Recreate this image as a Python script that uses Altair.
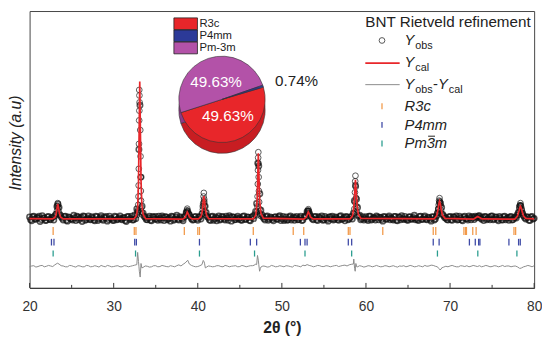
import altair as alt
import numpy as np
import pandas as pd

FONT = "Liberation Sans"

# ---------------- data ----------------
x_major = [20, 30, 40, 50, 60, 70, 80]
x_minor = [25, 35, 45, 55, 65, 75]

obs_x = np.round(np.arange(20.0, 80.0001, 0.25), 3)
obs_y = [
    25.6, 24.2, 25.9, 24.8,  # 20
    25.3, 24.0, 26.1, 25.2,  # 21
    24.4, 25.8, 24.6, 25.5,  # 22
    26.0, 29.4, 29.0, 25.7,  # 23
    24.5, 25.9, 24.1, 25.4,  # 24
    24.9, 26.2, 24.3, 25.6,  # 25
    25.1, 24.0, 25.8, 24.7,  # 26
    26.0, 24.6, 25.3, 24.2,  # 27
    25.7, 24.9, 26.1, 24.4,  # 28
    25.2, 24.1, 25.9, 25.0,  # 29
    24.3, 25.6, 24.8, 26.0,  # 30
    24.6, 25.4, 24.0, 25.8,  # 31
    25.1, 24.5, 26.3, 28.5,  # 32
    50.0, 40.0, 27.0, 25.4,  # 33
    24.6, 25.9, 24.2, 25.5,  # 34
    25.8, 24.4, 25.1, 26.0,  # 35
    24.3, 25.6, 24.9, 24.1,  # 36
    25.7, 24.8, 26.2, 24.5,  # 37
    25.3, 24.2, 25.9, 27.5,  # 38
    26.4, 25.0, 24.6, 25.8,  # 39
    24.4, 25.7, 26.8, 31.0,  # 40
    27.2, 25.4, 24.3, 25.9,  # 41
    25.0, 24.2, 26.0, 24.8,  # 42
    25.6, 24.5, 25.2, 26.1,  # 43
    24.1, 25.5, 24.7, 25.9,  # 44
    25.3, 24.4, 26.0, 24.9,  # 45
    25.5, 24.2, 25.8, 26.4,  # 46
    30.5, 44.0, 28.0, 25.6,  # 47
    24.5, 26.0, 24.9, 25.3,  # 48
    24.2, 25.7, 24.8, 26.1,  # 49
    25.0, 24.3, 25.6, 24.6,  # 50
    26.0, 25.1, 24.4, 25.8,  # 51
    24.7, 25.9, 24.5, 26.0,  # 52
    27.6, 27.0, 25.5, 24.6,  # 53
    25.8, 24.3, 25.4, 26.0,  # 54
    24.6, 25.2, 24.1, 25.7,  # 55
    25.9, 24.8, 25.3, 24.4,  # 56
    26.1, 25.0, 24.2, 25.6,  # 57
    24.9, 25.8, 27.0, 37.0,  # 58
    29.0, 26.2, 25.0, 24.5,  # 59
    25.7, 24.3, 25.9, 24.8,  # 60
    25.2, 26.0, 24.6, 25.4,  # 61
    24.1, 25.6, 24.9, 26.0,  # 62
    25.3, 24.5, 25.8, 24.2,  # 63
    25.5, 26.1, 24.7, 25.0,  # 64
    24.4, 25.7, 24.9, 26.2,  # 65
    25.1, 24.3, 25.9, 24.8,  # 66
    26.0, 24.6, 25.3, 24.1,  # 67
    25.6, 24.9, 27.0, 30.8,  # 68
    29.0, 26.0, 25.2, 24.5,  # 69
    25.8, 24.4, 25.5, 26.0,  # 70
    24.7, 25.3, 24.2, 25.9,  # 71
    25.0, 26.0, 24.6, 25.4,  # 72
    25.9, 25.6, 26.1, 24.8,  # 73
    24.3, 25.7, 25.0, 24.6,  # 74
    26.0, 24.9, 25.5, 24.2,  # 75
    25.3, 24.5, 25.9, 25.1,  # 76
    24.4, 25.8, 24.7, 25.6,  # 77
    26.4, 29.3, 28.4, 26.0,  # 78
    24.9, 25.5, 24.3, 25.8,  # 79
    25.1,                    # 80
]

# observed pattern, intermediate samples (x.125, x.375, x.625, x.875)
obs2_x = np.round(np.arange(20.125, 80.0, 0.25), 3)
obs2_y = [
    24.6, 25.7, 24.9, 25.4,  # 20
    25.9, 24.7, 25.2, 24.3,  # 21
    25.6, 24.8, 25.3, 24.5,  # 22
    26.6, 30.2, 26.4, 25.1,  # 23
    25.8, 24.4, 25.6, 24.9,  # 24
    24.5, 25.3, 25.9, 24.6,  # 25
    25.5, 26.0, 24.4, 25.2,  # 26
    24.8, 25.7, 24.5, 25.9,  # 27
    24.3, 25.4, 24.8, 25.6,  # 28
    25.8, 24.7, 25.1, 24.4,  # 29
    25.9, 24.6, 25.3, 24.9,  # 30
    25.2, 24.3, 25.7, 24.7,  # 31
    25.9, 24.6, 25.0, 27.5,  # 32
    66.0, 29.5, 25.9, 24.7,  # 33
    25.3, 24.4, 25.8, 24.8,  # 34
    24.9, 25.9, 24.5, 25.4,  # 35
    25.7, 24.6, 25.3, 25.9,  # 36
    24.4, 25.5, 24.8, 25.7,  # 37
    24.8, 25.6, 27.2, 26.9,  # 38
    25.7, 24.5, 25.6, 24.9,  # 39
    25.6, 24.9, 29.5, 29.5,  # 40
    25.8, 24.6, 25.7, 24.4,  # 41
    25.6, 25.2, 24.5, 25.8,  # 42
    24.9, 25.9, 24.4, 25.5,  # 43
    25.7, 24.6, 25.3, 24.8,  # 44
    24.5, 25.8, 24.7, 25.6,  # 45
    24.4, 25.5, 25.0, 27.6,  # 46
    45.0, 34.0, 26.4, 25.0,  # 47
    25.7, 24.4, 25.6, 24.7,  # 48
    25.5, 24.9, 25.7, 24.3,  # 49
    25.8, 24.8, 24.4, 25.6,  # 50
    24.5, 25.6, 25.3, 24.6,  # 51
    25.4, 24.3, 25.5, 25.8,  # 52
    27.8, 26.1, 24.9, 25.7,  # 53
    24.6, 25.7, 24.9, 24.4,  # 54
    25.8, 24.7, 25.5, 24.9,  # 55
    24.5, 25.6, 24.7, 25.8,  # 56
    24.7, 25.5, 25.8, 24.6,  # 57
    25.5, 24.9, 31.5, 32.0,  # 58
    25.9, 24.6, 25.7, 25.1,  # 59
    24.8, 25.9, 24.5, 25.4,  # 60
    24.5, 25.6, 25.5, 24.7,  # 61
    25.8, 24.8, 25.5, 24.6,  # 62
    24.9, 25.8, 24.4, 25.6,  # 63
    24.6, 25.1, 25.8, 24.5,  # 64
    25.6, 24.8, 25.4, 24.6,  # 65
    24.6, 25.8, 24.7, 25.5,  # 66
    24.8, 25.5, 24.7, 25.7,  # 67
    24.5, 25.9, 28.5, 30.5,  # 68
    26.5, 25.3, 24.7, 25.6,  # 69
    24.6, 25.7, 24.9, 24.5,  # 70
    25.9, 24.5, 25.6, 25.0,  # 71
    24.5, 25.4, 25.8, 24.7,  # 72
    25.3, 26.0, 25.2, 25.5,  # 73
    25.8, 24.6, 25.5, 25.9,  # 74
    24.6, 25.6, 24.7, 25.8,  # 75
    24.6, 25.7, 24.6, 25.4,  # 76
    25.6, 24.5, 25.3, 25.2,  # 77
    27.2, 29.8, 27.0, 25.3,  # 78
    25.7, 24.4, 25.6, 24.9,  # 79
]

# extra observed points on the Bragg peaks
peak_obs_x = [
    33.04, 33.06, 33.08, 33.05, 33.03, 33.16, 33.01, 33.19, 32.99, 33.21, 32.97,
    33.23, 32.95, 33.25, 32.92, 33.28, 32.88, 33.32, 32.83, 33.38, 32.78,
    47.20, 47.18, 47.22, 47.16, 47.24, 47.14, 47.27, 47.11, 47.30, 47.08, 47.34,
    47.04, 47.40, 46.98, 47.46,
    58.75, 58.72, 58.78, 58.69, 58.82, 58.66, 58.86, 58.62, 58.90, 58.57, 58.96,
    40.72, 40.69, 40.76, 40.65, 40.80, 40.60, 40.86, 40.54, 40.93,
    23.35, 23.31, 23.40, 23.27, 23.45, 23.20, 23.52,
    68.75, 68.70, 68.80, 68.65, 68.86, 68.60, 68.92, 68.54, 69.00, 68.45,
    78.37, 78.32, 78.43, 78.27, 78.50, 78.20, 78.58, 78.12, 78.66,
    38.75, 38.70, 38.82, 38.62, 38.90,
    53.15, 53.10, 53.22, 53.02, 53.30,
]
peak_obs_y = [
    71.5, 69.5, 67.0, 64.0, 60.5, 57.0, 52.0, 47.5, 43.0, 40.0, 37.0,
    35.0, 33.0, 31.5, 30.0, 29.0, 28.0, 27.5, 27.0, 26.5, 26.3,
    49.0, 47.0, 45.0, 42.5, 40.0, 37.5, 35.0, 33.0, 31.0, 29.5, 28.5,
    27.5, 26.8, 26.2, 26.0,
    40.5, 38.5, 36.5, 34.5, 32.5, 31.0, 29.5, 28.5, 27.5, 26.8, 26.4,
    34.3, 33.0, 32.0, 30.5, 29.5, 28.3, 27.5, 26.8, 26.3,
    30.6, 29.6, 29.0, 28.0, 27.6, 26.8, 26.5,
    32.4, 31.5, 31.2, 30.0, 29.6, 28.5, 28.0, 27.2, 26.8, 26.3,
    30.6, 29.8, 29.5, 28.6, 28.0, 27.4, 27.0, 26.4, 26.3,
    28.6, 28.0, 27.8, 27.0, 26.8,
    28.4, 27.9, 27.7, 27.0, 26.7,
]

# calculated profile
cal_x = [20.0,
         22.7, 23.0, 23.15, 23.25, 23.35, 23.45, 23.55, 23.7, 24.0,
         32.4, 32.7, 32.85, 32.95, 33.02, 33.1, 33.18, 33.25, 33.35, 33.5, 33.8,
         38.2, 38.5, 38.65, 38.75, 38.85, 39.0, 39.3,
         40.1, 40.4, 40.55, 40.65, 40.72, 40.8, 40.9, 41.05, 41.3,
         46.6, 46.9, 47.05, 47.13, 47.2, 47.27, 47.35, 47.5, 47.8,
         52.6, 52.9, 53.05, 53.15, 53.25, 53.4, 53.7,
         58.1, 58.4, 58.55, 58.65, 58.75, 58.85, 58.95, 59.1, 59.4,
         68.1, 68.4, 68.55, 68.68, 68.75, 68.85, 68.95, 69.1, 69.4,
         72.8, 73.1, 73.3, 73.5, 73.8,
         77.7, 78.0, 78.2, 78.3, 78.38, 78.5, 78.6, 78.75, 79.0,
         80.0]
cal_y = [25.0,
         24.9, 25.4, 26.5, 28.6, 30.3, 28.8, 26.8, 25.5, 24.9,
         24.9, 26.0, 29.0, 38.0, 55.0, 74.5, 56.0, 39.0, 30.0, 26.5, 25.0,
         24.8, 25.4, 26.6, 27.4, 26.8, 25.6, 24.9,
         24.9, 25.8, 28.0, 31.5, 33.1, 31.8, 28.5, 26.2, 25.0,
         24.9, 26.2, 31.0, 40.0, 48.6, 41.0, 32.0, 27.0, 25.2,
         24.8, 25.5, 26.7, 27.4, 26.8, 25.6, 24.9,
         24.9, 26.0, 29.0, 34.0, 39.0, 34.5, 29.5, 26.5, 25.1,
         24.9, 26.0, 28.0, 30.5, 31.3, 30.3, 28.2, 26.3, 25.1,
         24.8, 25.4, 25.8, 25.4, 24.9,
         24.8, 25.8, 27.8, 29.0, 29.5, 28.6, 27.2, 25.9, 25.1,
         24.9]

# difference curve Yobs - Ycal (offset below)
diff_grid_x = np.round(np.arange(20.0, 80.0001, 0.5), 3)
diff_grid_y = [
    7.6, 8.0, 7.7, 8.1, 7.8, 7.9, 8.3, 8.6, 7.9, 7.6,
    8.0, 7.5, 7.9, 7.6, 8.0, 7.7, 7.8, 8.1, 7.6, 7.9,
    7.7, 8.0, 7.6, 7.9, 7.8, 8.2, 7.8, 7.4, 7.8, 7.6,
    8.0, 7.7, 7.9, 7.6, 7.8, 8.0, 7.9, 9.0, 8.6, 7.8,
    7.7, 8.4, 7.4, 7.8, 7.7, 8.0, 7.6, 7.9, 7.8, 8.0,
    7.7, 7.9, 7.8, 8.0, 8.4, 7.5, 7.8, 7.6, 7.9, 7.7,
    7.8, 8.0, 7.7, 8.1, 7.8, 8.2, 8.4, 7.9, 7.8, 8.0,
    7.7, 7.9, 7.8, 8.1, 7.9, 8.2, 8.3, 8.6, 7.6, 7.8,
    7.7, 7.9, 7.8, 7.8, 7.7, 7.9, 7.8, 7.7, 7.9, 8.0,
    7.8, 7.9, 7.7, 7.8, 8.1, 7.9, 8.1, 7.6, 7.2, 7.8,
    7.9, 7.8, 7.6, 7.9, 8.0, 7.8, 7.9, 8.0, 7.8, 7.9,
    7.7, 7.9, 7.8, 7.7, 7.9, 7.8, 7.6, 7.2, 7.8, 7.9,
    8.0,
]
diff2_x = np.round(np.arange(20.25, 80.0, 0.5), 3)
diff2_y = [
    7.9, 7.5, 8.0, 7.6, 8.1, 7.7, 8.8, 8.0, 7.6, 8.1,
    7.7, 8.0, 7.6, 8.1, 7.6, 8.0, 7.5, 7.8, 8.1, 7.6,
    7.9, 7.6, 8.0, 7.6, 8.0, 8.4, 8.8, 7.9, 7.5, 8.0,
    7.6, 8.1, 7.7, 8.0, 7.6, 8.3, 8.5, 9.8, 8.1, 7.6,
    8.0, 9.4, 7.9, 7.6, 8.0, 7.7, 8.1, 7.6, 7.9, 7.6,
    8.1, 7.6, 8.0, 8.2, 8.5, 7.9, 7.5, 8.1, 7.6, 8.0,
    7.6, 7.9, 7.5, 8.0, 7.6, 8.0, 8.1, 7.6, 8.1, 7.7,
    8.0, 7.6, 8.0, 7.7, 8.1, 7.9, 8.5, 7.2, 8.0, 7.5,
    8.0, 7.6, 8.1, 7.6, 8.0, 7.6, 8.0, 7.5, 7.8, 7.6,
    8.1, 7.6, 8.0, 7.6, 7.8, 8.2, 7.8, 6.8, 7.5, 7.6,
    8.1, 7.6, 8.0, 7.7, 7.6, 8.1, 7.7, 7.6, 8.1, 7.6,
    8.0, 7.6, 8.1, 7.9, 7.6, 7.9, 7.1, 7.6, 8.1, 7.6,
]
diff_spike_x = [23.3, 32.85, 32.95, 33.05, 33.15, 33.35,
                38.8, 40.65, 40.8, 40.9,
                46.85, 47.1, 47.2, 47.35, 47.45,
                58.55, 58.65, 58.72, 58.8, 58.9,
                68.65, 68.8, 68.95, 78.3]
diff_spike_y = [8.9, 12.8, 9.5, 6.0, 3.9, 7.2,
                10.0, 9.9, 8.9, 7.2,
                8.6, 11.7, 10.0, 6.0, 7.0,
                10.4, 7.0, 6.0, 8.8, 7.6,
                7.0, 6.5, 6.8, 7.0]

# Bragg reflection positions
bragg_r3c = [22.8, 32.45, 32.65, 38.4, 40.0, 40.2, 46.6, 51.35, 52.6, 57.9, 58.1,
             62.0, 68.0, 68.3, 71.65, 71.85, 71.95, 72.7, 73.1, 77.6, 77.8]
bragg_p4mm = [22.6, 22.9, 32.5, 32.7, 40.2, 46.25, 47.0, 52.2, 52.75, 53.0, 57.9,
              58.3, 68.0, 68.7, 72.3, 73.0, 73.4, 73.55, 77.0, 78.15, 78.35]
bragg_pm3m = [22.8, 32.6, 40.2, 46.75, 52.75, 58.3, 68.5, 73.3, 77.95]

# phase fractions
pie_phase = ["R3c", "Pm-3m", "P4mm"]
pie_pct = [49.63, 49.63, 0.74]
pie_labels = ["49.63%", "49.63%", "0.74%"]

# ---------------- styling ----------------
RED = "#e8262a"
BLUE = "#2c3a98"
PURPLE = "#b352a8"
ORANGE = "#f29a4a"
LBLUE = "#3e4aa6"
TEAL = "#2a9d8f"
GREY = "#8a8a8a"

OX, OY = 30, 8   # page offset of the plot area


def px(x):
    return x - OX


def py(y):
    return y - OY


one = pd.DataFrame({"k": [0]})

X = alt.X("x:Q", scale=alt.Scale(domain=[20, 80], nice=False, zero=False),
          axis=alt.Axis(values=x_major, tickSize=0, labelFontSize=14, labelColor="#333",
                        labelFont=FONT, labelPadding=12, labelFlush=False, grid=False,
                        domainColor="#333",
                        title="2θ (°)", titleFont=FONT, titleFontSize=16,
                        titleFontWeight="bold", titleColor="#222", titlePadding=6))
Y = alt.Y("y:Q", scale=alt.Scale(domain=[0, 100], nice=False, zero=False),
          axis=alt.Axis(labels=False, ticks=False, grid=False, domain=False,
                        title="Intensity (a.u)", titleFont=FONT, titleFontSize=16,
                        titleFontStyle="italic", titleFontWeight="normal",
                        titleColor="#222", titlePadding=6, titleY=134))

base_df = pd.concat([
    pd.DataFrame({"x": obs_x, "y": obs_y}),
    pd.DataFrame({"x": obs2_x, "y": obs2_y}),
])
peak_df = pd.DataFrame({"x": peak_obs_x, "y": peak_obs_y})
cal_df = pd.DataFrame({"x": cal_x, "y": cal_y})
diff_df = pd.concat([
    pd.DataFrame({"x": diff_grid_x, "y": diff_grid_y}),
    pd.DataFrame({"x": diff2_x, "y": diff2_y}),
    pd.DataFrame({"x": diff_spike_x, "y": diff_spike_y}),
])

obs = alt.Chart(base_df).mark_point(shape="circle", filled=False, color="#111",
                                    size=30, strokeWidth=1.6).encode(x=X, y=Y)
obs_pk = alt.Chart(peak_df).mark_point(shape="circle", filled=False, color="#111",
                                       size=34, strokeWidth=1.0).encode(x=X, y=Y)
cal = alt.Chart(cal_df).mark_line(color=RED, strokeWidth=1.7).encode(x=X, y=Y)
diff = alt.Chart(diff_df).mark_line(color=GREY, strokeWidth=1).encode(x=X, y=Y)


def bragg(vals, color, y1, y2):
    return alt.Chart(pd.DataFrame({"x": vals})).mark_rule(
        color=color, strokeWidth=1.3).encode(x=X, y=alt.datum(y1), y2=alt.datum(y2))


br1 = bragg(bragg_r3c, ORANGE, 22.0, 19.1)
br2 = bragg(bragg_p4mm, LBLUE, 17.7, 15.3)
br3 = bragg(bragg_pm3m, TEAL, 13.5, 11.3)

tick_major = alt.Chart(pd.DataFrame({"x": x_major})).mark_rule(
    color="#333", strokeWidth=1).encode(x=X, y=alt.value(282), y2=alt.value(277))
tick_minor = alt.Chart(pd.DataFrame({"x": x_minor})).mark_rule(
    color="#333", strokeWidth=1).encode(x=X, y=alt.value(282), y2=alt.value(279))

# ---------------- pie ----------------
pie_df = pd.DataFrame({"phase": pie_phase, "pct": pie_pct, "idx": [0, 1, 2],
                       "side": ["#c81d22", "#8e3a88", "#1f2a78"]})
start = np.deg2rad(73.5)
theta = alt.Theta("pct:Q", stack=True, scale=alt.Scale(range=[start, start + 2 * np.pi]))
CX, CY, R, DEPTH = 226, 98, 44, 11

pie_side = alt.Chart(pie_df).mark_arc(outerRadius=R, stroke="#333", strokeWidth=0.6).encode(
    theta=theta, order=alt.Order("idx:Q"),
    fill=alt.Fill("side:N", scale=None),
    x=alt.value(px(CX)), y=alt.value(py(CY + DEPTH)))
pie_top = alt.Chart(pie_df).mark_arc(outerRadius=R, stroke="#333", strokeWidth=0.6).encode(
    theta=theta, order=alt.Order("idx:Q"),
    color=alt.Color("phase:N", scale=alt.Scale(domain=["R3c", "P4mm", "Pm-3m"],
                                                range=[RED, BLUE, PURPLE]), legend=None),
    x=alt.value(px(CX)), y=alt.value(py(CY)))


def text(t, x, y, size=15, color="#222", style="normal", align="left", baseline="alphabetic"):
    return alt.Chart(one).mark_text(text=t, font=FONT, fontSize=size, color=color,
                                    fontStyle=style, align=align, baseline=baseline).encode(
        x=alt.value(px(x)), y=alt.value(py(y)))


def hline(x1, x2, y, color, width=1.0):
    return alt.Chart(one).mark_rule(color=color, strokeWidth=width).encode(
        x=alt.value(px(x1)), x2=alt.value(px(x2)), y=alt.value(py(y)))


pie_texts = [
    text(pie_labels[0], 220, 85, size=15.5, color="white", align="center"),
    text(pie_labels[1], 232, 120, size=15.5, color="white", align="center"),
    text(pie_labels[2], 280, 84, size=15.5, color="#222"),
]

# pie legend (swatches)
pie_leg = []
sw_colors = [RED, BLUE, PURPLE]
sw_names = ["R3c", "P4mm", "Pm-3m"]
for i, (c, n) in enumerate(zip(sw_colors, sw_names)):
    top = 15 + 12.3 * i
    pie_leg.append(alt.Chart(one).mark_rect(color=c, stroke="#222", strokeWidth=0.8).encode(
        x=alt.value(px(177)), x2=alt.value(px(201)),
        y=alt.value(py(top)), y2=alt.value(py(top + 12))))
    pie_leg.append(text(n, 203, top + 6.3, size=11.5, baseline="middle"))

# ---------------- main legend ----------------
leg = [text("BNT Rietveld refinement", 372, 24, size=15.5)]
leg.append(alt.Chart(one).mark_point(shape="circle", filled=False, color="#111", size=34,
                                     strokeWidth=1.0).encode(x=alt.value(px(389)), y=alt.value(py(38))))
leg += [text("Y", 412, 43, style="italic"), text("obs", 423, 47, size=11)]
leg.append(hline(372, 407, 61, RED, 1.7))
leg += [text("Y", 412, 65, style="italic"), text("cal", 423, 69, size=11)]
leg.append(hline(372, 407, 83, GREY, 1.0))
leg += [text("Y", 412, 87, style="italic"), text("obs", 423, 91, size=11),
        text("-", 441, 87), text("Y", 446, 87, style="italic"), text("cal", 457, 91, size=11)]
for (c, lab, yy) in [(ORANGE, "R3c", 110), (LBLUE, "P4mm", 129), (TEAL, "Pm3m", 148)]:
    leg.append(alt.Chart(one).mark_rule(color=c, strokeWidth=1.3).encode(
        x=alt.value(px(389)), y=alt.value(py(yy - 8)), y2=alt.value(py(yy - 2))))
    leg.append(text(lab, 412, yy, style="italic"))
leg.append(hline(436, 443, 135.5, "#222", 1.0))   # bar over the 3 of Pm-3m

chart = alt.layer(
    obs, obs_pk, cal, diff, br1, br2, br3, tick_major, tick_minor,
    pie_side, pie_top, *pie_texts, *pie_leg, *leg
).properties(
    width=514, height=282,
    padding={"left": 0, "top": 0, "right": 0, "bottom": 0},
).configure_view(stroke="#444", strokeWidth=1)

chart.save("out.html", embed_options={"renderer": "svg", "actions": False})
